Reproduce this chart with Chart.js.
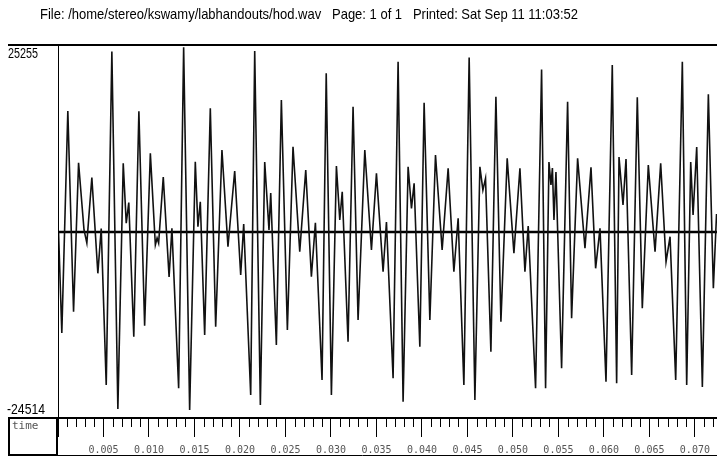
<!DOCTYPE html>
<html>
<head>
<meta charset="utf-8">
<script src="https://cdn.jsdelivr.net/npm/chart.js@4.4.0/dist/chart.umd.min.js"></script>
<style>
    html, body { margin: 0; padding: 0; background: #fff; }
    #wrap { width: 717px; height: 457px; }
</style>
</head>
<body>
<div id="wrap"><canvas id="wave" width="717" height="457"></canvas></div>
<script>
// turning points of the trace
var sampleTimes = [
    0.00006, 0.00042, 0.00108, 0.00171, 0.00226, 0.00286, 0.00317, 0.00372, 0.00438, 0.00475,
    0.00530, 0.00592, 0.00658, 0.00717, 0.00750, 0.00778, 0.00833, 0.00889, 0.00952, 0.01015,
    0.01070, 0.01089, 0.01106, 0.01157, 0.01221, 0.01252, 0.01326, 0.01381, 0.01447, 0.01509,
    0.01538, 0.01564, 0.01612, 0.01674, 0.01733, 0.01802, 0.01868, 0.01942, 0.02008, 0.02041,
    0.02118, 0.02162, 0.02224, 0.02272, 0.02319, 0.02338, 0.02400, 0.02455, 0.02521, 0.02583,
    0.02657, 0.02723, 0.02785, 0.02829, 0.02902, 0.02948, 0.03005, 0.03060, 0.03097, 0.03124,
    0.03188, 0.03243, 0.03298, 0.03372, 0.03445, 0.03500, 0.03573, 0.03610, 0.03683, 0.03738,
    0.03793, 0.03848, 0.03885, 0.03914, 0.03977, 0.04024, 0.04087, 0.04149, 0.04222, 0.04288,
    0.04351, 0.04398, 0.04461, 0.04519, 0.04582, 0.04637, 0.04670, 0.04699, 0.04758, 0.04813,
    0.04868, 0.04937, 0.05011, 0.05077, 0.05132, 0.05168, 0.05249, 0.05315, 0.05359, 0.05396,
    0.05418, 0.05434, 0.05451, 0.05473, 0.05535, 0.05601, 0.05645, 0.05711, 0.05792, 0.05858,
    0.05909, 0.05957, 0.06023, 0.06092, 0.06140, 0.06166, 0.06210, 0.06243, 0.06305, 0.06367,
    0.06422, 0.06488, 0.06562, 0.06624, 0.06683, 0.06727, 0.06789, 0.06862, 0.06910, 0.06954,
    0.06980, 0.07020, 0.07082, 0.07148, 0.07203, 0.07238
];
var sampleValues = [
    300, -13170, 16440, -10330, 9540, 570, -1170, 7570, -5210, 770,
    -20110, 24400, -23310, 9460, 1470, 4240, -13670, 16410, -12210, 10800,
    -1430, -500, -1170, 7640, -5700, 790, -20550, 24940, -23450, 9680,
    1010, 4340, -13440, 16800, -12330, 11240, -1660, 8440, -5440, 1370,
    -21440, 24450, -22780, 9640, 570, 5500, -14770, 17910, -12770, 11680,
    -2330, 8570, -5660, 1540, -19440, 21470, -21440, 9100, 1900, 5680,
    -14330, 17020, -11440, 11240, -2100, 8130, -5000, 1630, -19220, 23020,
    -22340, 9010, 3460, 6800, -15000, 17550, -11440, 10570, -2100, 8800,
    -5000, 2130, -20110, 23600, -22110, 9010, 5900, 7460, -15670, 18350,
    -11670, 10130, -2540, 8800, -5000, 1100, -20550, 22000, -20550, 9640,
    6570, 8840, 1900, 8300, -17880, 17680, -11210, 10130, -1870, 8930,
    -4540, 790, -19670, 22580, -19880, 10310, 3900, 10040, -18780, 18270,
    -9880, 9240, -2330, 9460, -3660, -330, -19440, 23020, -20110, 9640,
    2570, 11640, -20380, 18670, -7210, 2700
];
var baselineLevel = 300;
var timeMax = 0.07243;
var ampMin = -24514;
var ampMax = 25255;
var yTickLabels = ["25255", "-24514"];
var majorStep = 0.005;
var minorStep = 0.001;
var fileTitle = "File: /home/stereo/kswamy/labhandouts/hod.wav   Page: 1 of 1   Printed: Sat Sep 11 11:03:52";
var axisName = "time";

var narrowFont = "'Liberation Sans Narrow', 'Arial Narrow', 'Liberation Sans', sans-serif";
var monoFont = "'DejaVu Sans Mono', 'Liberation Mono', monospace";

function isMajor(v) {
    var r = v / majorStep;
    return Math.abs(r - Math.round(r)) < 1e-6;
}

// fits a string into a given width by squeezing it
function drawSqueezed(ctx, text, x, y, width) {
    var w = ctx.measureText(text).width;
    ctx.save();
    ctx.translate(x, y);
    if (w > width) ctx.scale(width / w, 1);
    ctx.fillText(text, 0, 0);
    ctx.restore();
}

var framePlugin = {
    id: 'frame',
    afterDraw: function (chart) {
        var ctx = chart.ctx;
        var area = chart.chartArea;
        var xs = chart.scales.x;
        var ys = chart.scales.y;
        var W = chart.width;
        var H = chart.height;
        ctx.save();
        ctx.strokeStyle = '#000';

        // heavy rules above and below the trace
        ctx.lineWidth = 2;
        ctx.beginPath();
        ctx.moveTo(8, area.top);
        ctx.lineTo(W, area.top);
        ctx.moveTo(8, area.bottom);
        ctx.lineTo(W, area.bottom);
        ctx.stroke();

        ctx.lineWidth = 1;
        ctx.beginPath();
        ctx.moveTo(area.left + 0.5, area.top);
        ctx.lineTo(area.left + 0.5, area.bottom);
        ctx.moveTo(8, H - 1.5);
        ctx.lineTo(W, H - 1.5);
        ctx.stroke();

        // box holding the axis name
        ctx.lineWidth = 2;
        ctx.strokeRect(9, area.bottom, area.left - 10, H - 2 - area.bottom);

        // short minor ticks
        ctx.lineWidth = 1;
        ctx.beginPath();
        xs.ticks.forEach(function (t) {
            if (isMajor(t.value)) return;
            var px = Math.round(xs.getPixelForValue(t.value)) + 0.5;
            ctx.moveTo(px, area.bottom);
            ctx.lineTo(px, area.bottom + 9);
        });
        ctx.stroke();

        ctx.fillStyle = '#555';
        ctx.font = '11px ' + monoFont;
        ctx.textBaseline = 'top';
        ctx.fillText(axisName, 12, area.bottom + 3);

        // range labels on the left
        ctx.fillStyle = '#000';
        ctx.font = '15px ' + narrowFont;
        ctx.textBaseline = 'top';
        drawSqueezed(ctx, yTickLabels[0], 8, ys.getPixelForValue(ampMax) + 1, 30);
        ctx.textBaseline = 'bottom';
        drawSqueezed(ctx, yTickLabels[1], 7, ys.getPixelForValue(ampMin) - 1, 38);

        ctx.textBaseline = 'middle';
        ctx.font = '15px ' + narrowFont;
        drawSqueezed(ctx, fileTitle, 40, 15, 538);
        ctx.restore();
    }
};

var points = sampleTimes.map(function (t, i) {
    return { x: t, y: sampleValues[i] };
});

new Chart(document.getElementById('wave'), {
    type: 'line',
    data: {
        datasets: [
            {
                data: points,
                borderColor: '#111',
                borderWidth: 1.6,
                pointRadius: 0,
                tension: 0,
            },
            {
                data: [{ x: 0, y: baselineLevel }, { x: timeMax, y: baselineLevel }],
                borderColor: '#000',
                borderWidth: 2.5,
                pointRadius: 0,
            },
        ],
    },
    options: {
        responsive: false,
        animation: false,
        devicePixelRatio: 1,
        layout: { padding: { left: 58, top: 45, right: 0, bottom: 0 } },
        scales: {
            x: {
                type: 'linear',
                min: 0,
                max: timeMax,
                afterFit: function (scale) {
                    scale.height = 39;
                    scale.paddingLeft = 0;
                    scale.paddingRight = 0;
                },
                border: { display: false },
                grid: {
                    drawOnChartArea: false,
                    tickLength: 19,
                    tickWidth: 1,
                    tickColor: function (c) {
                        return c.tick && isMajor(c.tick.value) ? '#000' : 'rgba(0,0,0,0)';
                    },
                },
                ticks: {
                    stepSize: minorStep,
                    autoSkip: false,
                    includeBounds: false,
                    maxRotation: 0,
                    padding: 7,
                    color: '#555',
                    font: { family: monoFont, size: 10 },
                    callback: function (v) {
                        return isMajor(v) && v > 0 ? v.toFixed(3) : '';
                    },
                },
            },
            y: {
                display: false,
                min: ampMin,
                max: ampMax,
            },
        },
        plugins: {
            legend: { display: false },
            tooltip: { enabled: false },
        },
    },
    plugins: [framePlugin],
});
</script>
</body>
</html>
